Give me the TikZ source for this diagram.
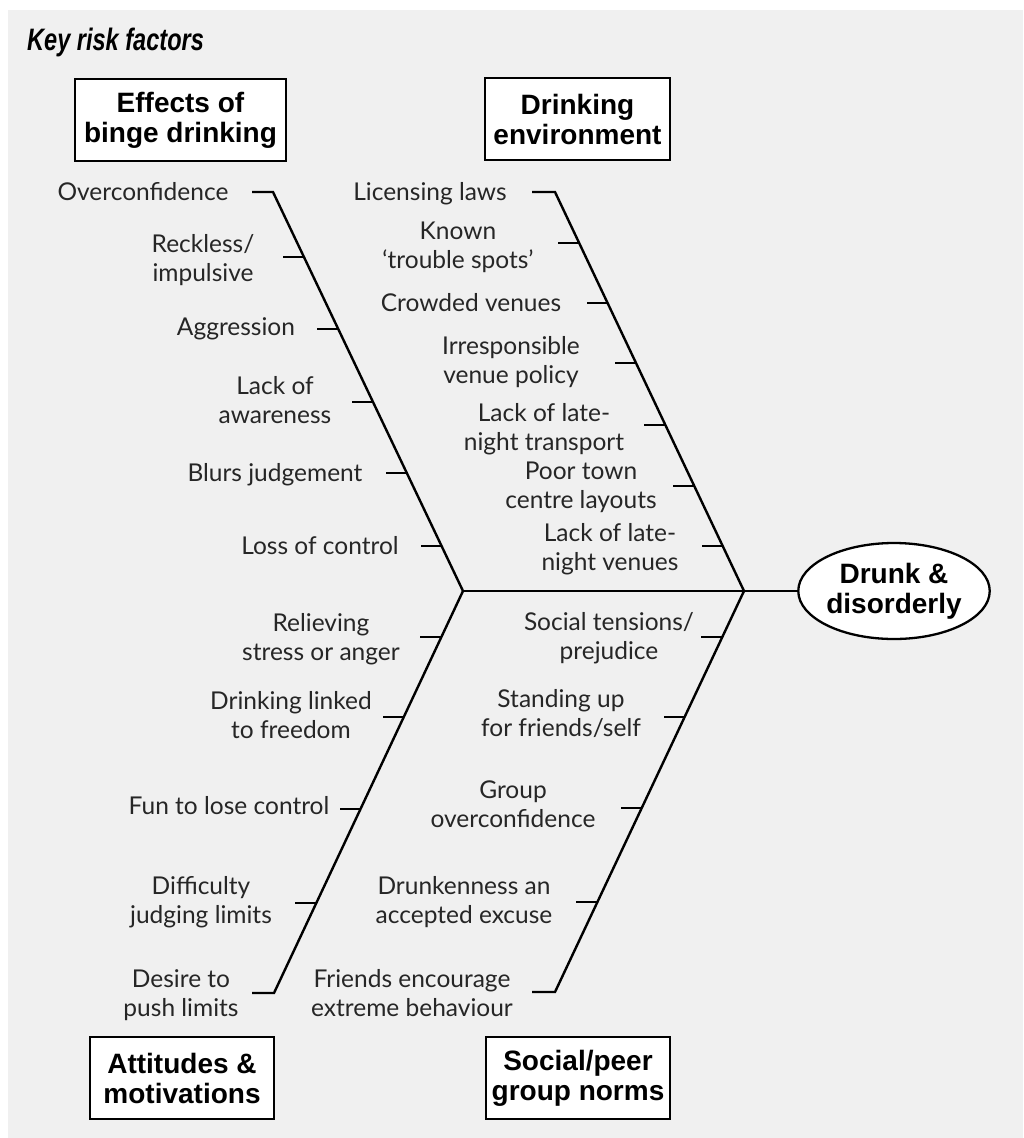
\documentclass[tikz,border=0pt]{standalone}
\usepackage{fontspec}
\setmainfont{Lato}
\newfontfamily\arialfont{Liberation Sans}
\usetikzlibrary{shapes.geometric,calc}
\definecolor{bg}{HTML}{F0F0F0}
\newcommand\twol[2]{\strut #1\\\strut #2}
\newcommand\onel[1]{\strut #1}
\begin{document}
\begin{tikzpicture}[x=1pt,y=-1pt,
  lbl/.style={font=\fontsize{24.5}{29}\selectfont, align=center, inner sep=0pt, text=black!85, yshift=-3pt},
  hdr/.style={draw, line width=2.3pt, fill=white, font=\arialfont\bfseries\fontsize{28}{30}\selectfont, align=center, minimum height=82pt, inner sep=0pt},
  bone/.style={line width=2.4pt},
  ]
\useasboundingbox (0,0) rectangle (1023,1138);
\fill[white] (0,0) rectangle (1023,1138);
\fill[bg] (8,10) rectangle (1023,1138);

% title
\node[anchor=base west, inner sep=0pt] (title) at (27,50) {\arialfont\bfseries\itshape\fontsize{31}{36}\selectfont\scalebox{0.76}[1]{Key risk factors}};

% category boxes
\node[hdr, minimum width=211pt] (effects) at (180.5,120) {Effects of\\binge drinking};
\node[hdr, minimum width=185pt] (environment) at (577.5,119) {Drinking\\environment};
\node[hdr, minimum width=184pt] (attitudes) at (182,1078) {Attitudes \&\\motivations};
\node[hdr, minimum width=184pt] (social) at (578,1078) {Social/peer\\group norms};

% effect
\node[ellipse, draw, line width=2.3pt, fill=white, minimum width=183pt, minimum height=96pt, inner sep=0pt, align=center, font=\arialfont\bfseries\fontsize{28}{30}\selectfont] (effect) at (894,591) {Drunk \&\\disorderly};

% skeleton
\coordinate (J1) at (463,591);
\coordinate (J2) at (744,591);
\coordinate (TL) at (273,192);
\coordinate (TR) at (555,192);
\coordinate (BL) at (274,993);
\coordinate (BR) at (555,992);

\draw[bone] (J1) -- (effect.west);
\draw[bone] ($(TL)+(-21,0)$) -- (TL) -- (J1);
\draw[bone] ($(TR)+(-23,0)$) -- (TR) -- (J2);
\draw[bone] ($(BL)+(-22,0)$) -- (BL) -- (J1);
\draw[bone] ($(BR)+(-23,0)$) -- (BR) -- (J2);

% ticks: upper left
\foreach \t [count=\i] in {0.1629,0.3434,0.5263,0.7043,0.8872}{
  \coordinate (ul\i) at ($(TL)!\t!(J1)$);
  \draw[bone] (ul\i) -- ++(-21,0);
}
% ticks: upper right
\foreach \t [count=\i] in {0.1278,0.2782,0.4286,0.5840,0.7368,0.8872}{
  \coordinate (ur\i) at ($(TR)!\t!(J2)$);
  \draw[bone] (ur\i) -- ++(-21,0);
}
% ticks: lower left
\foreach \t [count=\i] in {0.1144,0.3134,0.5423,0.7761}{
  \coordinate (ll\i) at ($(J1)!\t!(BL)$);
  \draw[bone] (ll\i) -- ++(-21,0);
}
% ticks: lower right
\foreach \t [count=\i] in {0.1147,0.3142,0.5411,0.7756}{
  \coordinate (lr\i) at ($(J2)!\t!(BR)$);
  \draw[bone] (lr\i) -- ++(-21,0);
}

% labels: effects of binge drinking
\node[lbl] (a1) at (143,192) {\onel{Overconfidence}};
\node[lbl] (a2) at (203,258) {\twol{Reckless/}{impulsive}};
\node[lbl] (a3) at (236,327) {\onel{Aggression}};
\node[lbl] (a4) at (275,400) {\twol{Lack of}{awareness}};
\node[lbl] (a5) at (275,473) {\onel{Blurs judgement}};
\node[lbl] (a6) at (320,546) {\onel{Loss of control}};

% labels: drinking environment
\node[lbl] (b1) at (430,192) {\onel{Licensing laws}};
\node[lbl] (b2) at (458,245) {\twol{Known}{`trouble spots'}};
\node[lbl] (b3) at (471,303) {\onel{Crowded venues}};
\node[lbl] (b4) at (511,360) {\twol{Irresponsible}{venue policy}};
\node[lbl] (b5) at (544,427) {\twol{Lack of late-}{night transport}};
\node[lbl] (b6) at (581,485) {\twol{Poor town}{centre layouts}};
\node[lbl] (b7) at (610,547) {\twol{Lack of late-}{night venues}};

% labels: attitudes & motivations
\node[lbl] (c1) at (321,637) {\twol{Relieving}{stress or anger}};
\node[lbl] (c2) at (291,715) {\twol{Drinking linked}{to freedom}};
\node[lbl] (c3) at (229,806) {\onel{Fun to lose control}};
\node[lbl] (c4) at (201,900) {\twol{Difficulty}{judging limits}};
\node[lbl] (c5) at (181,993) {\twol{Desire to}{push limits}};

% labels: social/peer group norms
\node[lbl] (d1) at (609,636) {\twol{Social tensions/}{prejudice}};
\node[lbl] (d2) at (561,713) {\twol{Standing up}{for friends/self}};
\node[lbl] (d3) at (513,804) {\twol{Group}{overconfidence}};
\node[lbl] (d4) at (464,900) {\twol{Drunkenness an}{accepted excuse}};
\node[lbl] (d5) at (412,993) {\twol{Friends encourage}{extreme behaviour}};
\end{tikzpicture}
\end{document}
